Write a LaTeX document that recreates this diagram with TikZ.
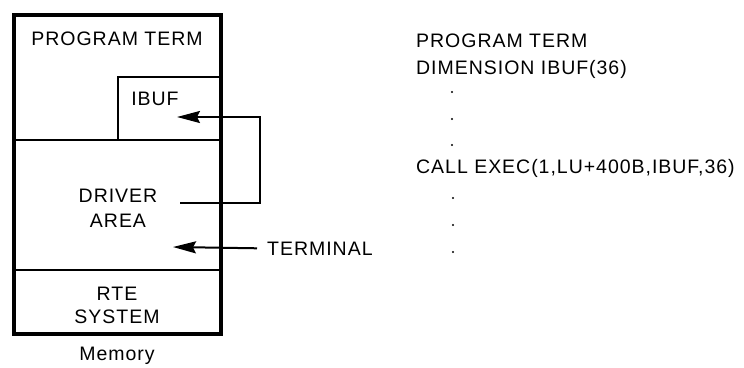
\documentclass[tikz,border=0pt]{standalone}
\usepackage{fontspec}
\setmainfont{Liberation Sans}[LetterSpace=5]
\usetikzlibrary{arrows.meta}
\begin{document}
\begin{tikzpicture}[x=1pt,y=-1pt,
  every node/.style={font=\fontsize{19.5}{22}\selectfont, inner sep=0pt},
  outer/.style={line width=3.2pt},
  wall/.style={line width=2.4pt},
  arr/.style={line width=2pt, -{Stealth[length=23pt,width=12pt,inset=3pt]}},
  dotmark/.style={fill=black}]
\useasboundingbox (0,0) rectangle (744,367);
% memory map
\draw[wall] (14,140) -- (221,140);
\draw[wall] (14,270) -- (221,270);
\draw[wall] (118,140) -- (118,77) -- (221,77);
\draw[outer] (14,15) rectangle (221,334);
\node[anchor=base] (prog) at (117,45) {PROGRAM TERM};
\node[anchor=base] (ibuf) at (155,105) {IBUF};
\node[anchor=base] (drv1) at (118,202) {DRIVER};
\node[anchor=base] (drv2) at (118,227) {AREA};
\node[anchor=base] (rte1) at (117,300) {RTE};
\node[anchor=base] (rte2) at (117,323) {SYSTEM};
\node[anchor=base] (mem) at (117,360) {Memory};
% arrows
\coordinate (drvsrc) at (180,203);
\coordinate (ibuftip) at (177,117);
\draw[arr] (drvsrc) -- (260,203) -- (260,117) -- (ibuftip);
\node[anchor=base west] (term) at (267,255) {TERMINAL};
\coordinate (termtip) at (173,247);
\draw[arr] ([xshift=-10pt]term.west) -- (termtip);
% program listing
\node[anchor=base west] (l1) at (416,47) {PROGRAM TERM};
\node[anchor=base west] (l2) at (416,74) {DIMENSION IBUF(36)};
\node[anchor=base west] (l3) at (416,173) {CALL EXEC(1,LU+400B,IBUF,36)};
\foreach \y in {92,119,145} \fill[dotmark] (452,\y) circle (1.1);
\foreach \y in {198,225,252} \fill[dotmark] (453,\y) circle (1.1);
\end{tikzpicture}
\end{document}
